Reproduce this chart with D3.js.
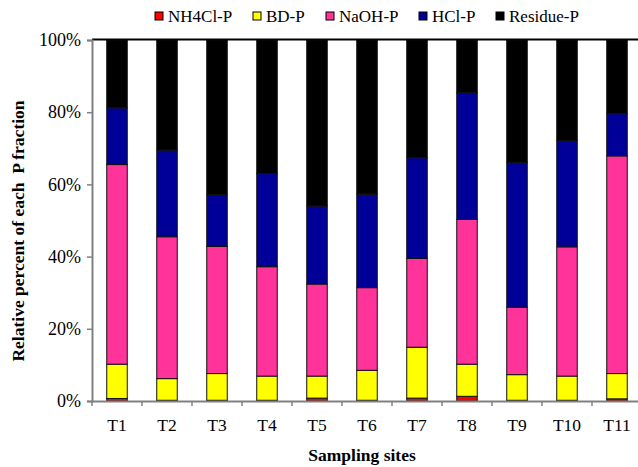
<!DOCTYPE html>
<html>
<head>
<meta charset="utf-8">
<script src="https://cdn.jsdelivr.net/npm/d3@7"></script>
<style>
  html, body { margin: 0; padding: 0; background: #fff; }
  svg text { font-family: "Liberation Serif", "Times New Roman", Times, "DejaVu Serif", serif !important; }
</style>
</head>
<body>
<svg id="chart" width="638" height="467"></svg>
<script>
const sites = ["T1","T2","T3","T4","T5","T6","T7","T8","T9","T10","T11"];
const fractions = ["NH4Cl-P","BD-P","NaOH-P","HCl-P","Residue-P"];
const colors = ["#FF0000","#FFFF00","#FF3399","#000099","#000000"];
const nh4cl   = [0.7, 0.2, 0.2, 0.2, 0.8, 0.2, 0.8, 1.3, 0.2, 0.2, 0.6];
const bd      = [9.5, 6.0, 7.4, 6.7, 6.1, 8.3, 14.1, 8.9, 7.1, 6.7, 7.0];
const naoh    = [55.3, 39.3, 35.2, 30.3, 25.5, 22.9, 24.6, 40.1, 18.7, 35.8, 60.3];
const hcl     = [15.7, 24.0, 14.3, 25.8, 21.6, 25.9, 27.9, 35.1, 40.1, 29.5, 11.7];
const residue = [18.8, 30.5, 42.9, 37.0, 46.0, 42.7, 32.6, 14.6, 33.9, 27.8, 20.4];
const yTicks = [0, 20, 40, 60, 80, 100];

const series = [nh4cl, bd, naoh, hcl, residue];
const rows = sites.map((s, i) => {
  const r = { site: s };
  fractions.forEach((f, k) => { r[f] = series[k][i]; });
  return r;
});
rows.forEach(r => {
  const tot = d3.sum(fractions, f => r[f]);
  fractions.forEach(f => { r[f] = r[f] / tot * 100; });
});

const svg = d3.select("#chart");
const plotL = 92, plotR = 642, plotT = 40, plotB = 401;

const x = d3.scaleBand().domain(sites).range([plotL, plotR])
  .paddingInner(0.59).paddingOuter(0.295);
const y = d3.scaleLinear().domain([0, 100]).range([plotB, plotT]);

const stacked = d3.stack().keys(fractions)(rows);

svg.append("g").selectAll("g")
  .data(stacked).join("g")
  .attr("fill", (d, i) => colors[i])
  .selectAll("rect").data(d => d).join("rect")
  .attr("x", d => x(d.data.site))
  .attr("width", x.bandwidth())
  .attr("y", d => y(d[1]))
  .attr("height", d => y(d[0]) - y(d[1]))
  .attr("stroke", "#111")
  .attr("stroke-width", 1);

svg.append("line")
  .attr("x1", plotL).attr("x2", plotR)
  .attr("y1", plotT - 0.5).attr("y2", plotT - 0.5)
  .attr("stroke", "#000").attr("stroke-width", 2);

const yAxis = svg.append("g")
  .attr("transform", `translate(${plotL},0)`)
  .call(d3.axisLeft(y).tickValues(yTicks).tickFormat(d => d + "%").tickSize(5).tickPadding(6));
yAxis.select(".domain").attr("stroke", "#808080").attr("stroke-width", 2);
yAxis.selectAll(".tick line").attr("stroke", "#808080").attr("stroke-width", 1.5);
yAxis.selectAll("text").attr("font-size", 18).attr("fill", "#000");

const xAxis = svg.append("g")
  .attr("transform", `translate(0,${plotB})`)
  .call(d3.axisBottom(x).tickSize(0).tickPadding(18));
xAxis.select(".domain").attr("stroke", "#808080").attr("stroke-width", 2);
xAxis.selectAll("text").attr("font-size", 17.5).attr("fill", "#000");
const bounds = d3.range(sites.length + 1).map(i => plotL + i * x.step());
svg.append("g").selectAll("line").data(bounds).join("line")
  .attr("x1", d => d).attr("x2", d => d)
  .attr("y1", plotB).attr("y2", plotB + 5)
  .attr("stroke", "#808080").attr("stroke-width", 1.5);

svg.append("text")
  .attr("x", 362).attr("y", 461)
  .attr("text-anchor", "middle")
  .attr("font-weight", "bold").attr("font-size", 17.5)
  .text("Sampling sites");

svg.append("text")
  .attr("transform", "translate(24,231) rotate(-90)")
  .attr("text-anchor", "middle")
  .attr("font-weight", "bold").attr("font-size", 17.5)
  .attr("xml:space", "preserve")
  .text("Relative percent of each  P fraction");

const legendX = [155, 253, 326, 419, 496];
const lg = svg.append("g").selectAll("g").data(fractions).join("g")
  .attr("transform", (d, i) => `translate(${legendX[i]},12)`);
lg.append("rect").attr("width", 8).attr("height", 8)
  .attr("fill", (d, i) => colors[i]).attr("stroke", "#000").attr("stroke-width", 1);
lg.append("text").attr("x", 13).attr("y", 9.5)
  .attr("font-size", 17).text(d => d);
</script>
</body>
</html>
